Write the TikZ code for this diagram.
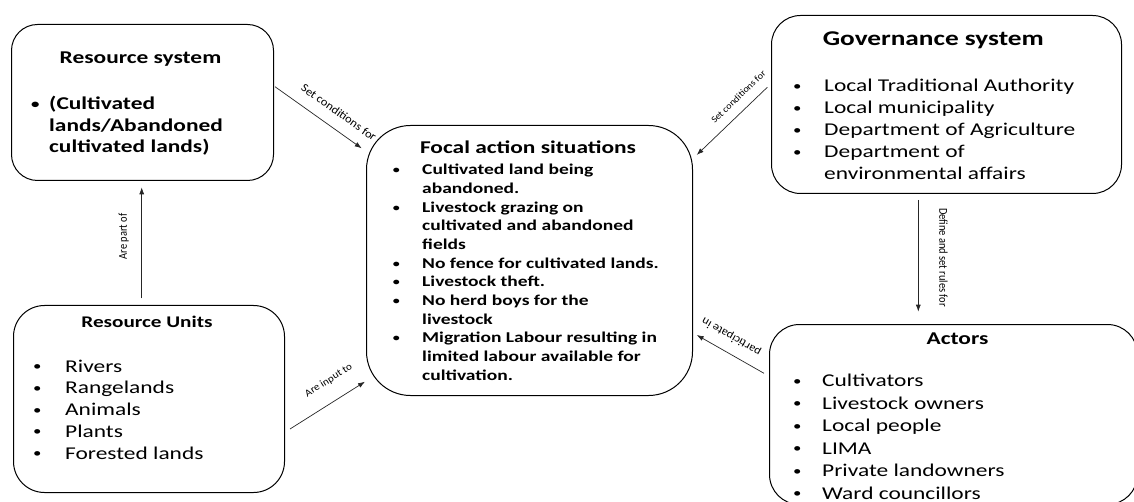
\documentclass[tikz,border=0pt]{standalone}
\usepackage{graphicx}
\usepackage{fontspec}
\setmainfont[FakeStretch=1.3]{Carlito}
\newfontfamily\lblfont[FakeStretch=1.08]{Carlito}
\newfontfamily\vlblfont[FakeStretch=0.87]{Carlito}
\usetikzlibrary{arrows.meta}

% small bullet in a box of fixed width, and the matching hanging indent
\newcommand\blt[1]{\makebox[#1][l]{\hspace{0.05em}\raisebox{0.08em}{\scalebox{0.72}{\textbullet}}}}
\newcommand\hang[1]{\hspace*{#1}}

\begin{document}
\begin{tikzpicture}[x=1pt,y=-1pt,
  box/.style={draw=black, line width=1pt, inner sep=0pt, anchor=north west},
  title/.style={anchor=base, inner sep=0pt, font=\bfseries\fontsize{18}{22}\selectfont},
  list/.style={anchor=base west, inner sep=0pt},
  conn/.style={draw=black!85, line width=0.7pt, -{Latex[length=7pt,width=5pt]}},
  lbl/.style={inner sep=0pt, sloped, text=black}
]
\useasboundingbox (0,0) rectangle (1134,502);
\clip (0,0) rectangle (1134,502);

% ---- boxes ----
\node[box, rounded corners=26pt, minimum width=262pt, minimum height=156pt] (rs) at (11,24) {};
\node[box, rounded corners=31pt, minimum width=271pt, minimum height=187pt] (ru) at (13,305) {};
\node[box, rounded corners=44pt, minimum width=326pt, minimum height=270pt] (fa) at (366,125) {};
\node[box, rounded corners=29pt, minimum width=350pt, minimum height=178pt] (gs) at (771,15) {};
\node[box, rounded corners=30pt, minimum width=368pt, minimum height=180pt] (ac) at (769,324) {};

% ---- titles ----
\node[title] (rst) at (140.5,64) {Resource system};
\node[title, font=\bfseries\fontsize{16.3}{20}\selectfont] (rut) at (147,327.7) {Resource Units};
\node[title] (fat) at (528,154) {Focal action situations};
\node[title, font=\bfseries\fontsize{21}{25}\selectfont] (gst) at (933.3,46) {Governance system};
\node[title] (act) at (957.5,344) {Actors};

% ---- lists ----
\node[list, font=\bfseries\fontsize{18}{21.5}\selectfont] (rsl) at (30,110) {%
  \begin{tabular}[t]{@{}l@{}}
  \blt{19pt}(Cultivated\\
  \hang{19pt}lands/Abandoned\\
  \hang{19pt}cultivated lands)
  \end{tabular}};

\node[list, font=\fontsize{18}{21.75}\selectfont] (rul) at (32,372) {%
  \begin{tabular}[t]{@{}l@{}}
  \blt{33pt}Rivers\\
  \blt{33pt}Rangelands\\
  \blt{33pt}Animals\\
  \blt{33pt}Plants\\
  \blt{33pt}Forested lands
  \end{tabular}};

\node[list, font=\bfseries\fontsize{15}{18.65}\selectfont] (fal) at (392,175) {%
  \begin{tabular}[t]{@{}l@{}}
  \blt{30pt}Cultivated land being\\
  \hang{30pt}abandoned.\\
  \blt{30pt}Livestock grazing on\\
  \hang{30pt}cultivated and abandoned\\
  \hang{30pt}fields\\
  \blt{30pt}No fence for cultivated lands.\\
  \blt{30pt}Livestock theft.\\
  \blt{30pt}No herd boys for the\\
  \hang{30pt}livestock\\
  \blt{30pt}Migration Labour resulting in\\
  \hang{30pt}limited labour available for\\
  \hang{30pt}cultivation.
  \end{tabular}};

\node[list, font=\fontsize{18}{22}\selectfont] (gsl) at (792,92) {%
  \begin{tabular}[t]{@{}l@{}}
  \blt{32pt}Local Traditional Authority\\
  \blt{32pt}Local municipality\\
  \blt{32pt}Department of Agriculture\\
  \blt{32pt}Department of\\
  \hang{32pt}environmental affairs
  \end{tabular}};

\node[list, font=\fontsize{18}{22.5}\selectfont] (acl) at (792,386.7) {%
  \begin{tabular}[t]{@{}l@{}}
  \blt{30pt}Cultivators\\
  \blt{30pt}Livestock owners\\
  \blt{30pt}Local people\\
  \blt{30pt}LIMA\\
  \blt{30pt}Private landowners\\
  \blt{30pt}Ward councillors
  \end{tabular}};

% ---- connector ends ----
\coordinate (rs2fa-s) at (275,86.7);
\coordinate (rs2fa-e) at (361.7,148.3);
\coordinate (gs2fa-s) at (767.3,87.3);
\coordinate (gs2fa-e) at (696.7,155);
\coordinate (ru2rs-s) at (141.7,298.3);
\coordinate (ru2rs-e) at (141.7,187.3);
\coordinate (ru2fa-s) at (290,429);
\coordinate (ru2fa-e) at (365,381.7);
\coordinate (gs2ac-s) at (918.3,200);
\coordinate (gs2ac-e) at (918.3,311.7);
\coordinate (ac2fa-s) at (764,373.3);
\coordinate (ac2fa-e) at (696.7,335);

% ---- connectors ----
\draw[conn] (rs2fa-s) -- node[lbl, pos=0.63, above, outer ysep=12pt,
  font=\lblfont\fontsize{11.6}{13}\selectfont] (l1) {Set conditions for} (rs2fa-e);
\draw[conn] (gs2fa-s) -- node[lbl, pos=0.28, above, outer ysep=10pt,
  font=\lblfont\fontsize{9.3}{11}\selectfont] (l2) {Set conditions for} (gs2fa-e);
\draw[conn] (ru2rs-s) -- node[lbl, pos=0.557, above, outer ysep=13pt,
  font=\vlblfont\fontsize{12}{14}\selectfont] (l3) {Are part of} (ru2rs-e);
\draw[conn] (ru2fa-s) -- node[lbl, pos=0.66, above, outer ysep=16pt,
  font=\lblfont\fontsize{10.2}{12}\selectfont] (l4) {Are input to} (ru2fa-e);
\draw[conn] (gs2ac-s) -- node[lbl, pos=0.515, above, outer ysep=21pt,
  font=\vlblfont\fontsize{12}{14}\selectfont] (l5) {Define and set rules for} (gs2ac-e);
\draw[conn] (ac2fa-s) -- node[lbl, allow upside down, pos=0.6, below, outer ysep=11pt,
  font=\lblfont\fontsize{11.4}{13}\selectfont] (l6) {participate in} (ac2fa-e);
\end{tikzpicture}
\end{document}
